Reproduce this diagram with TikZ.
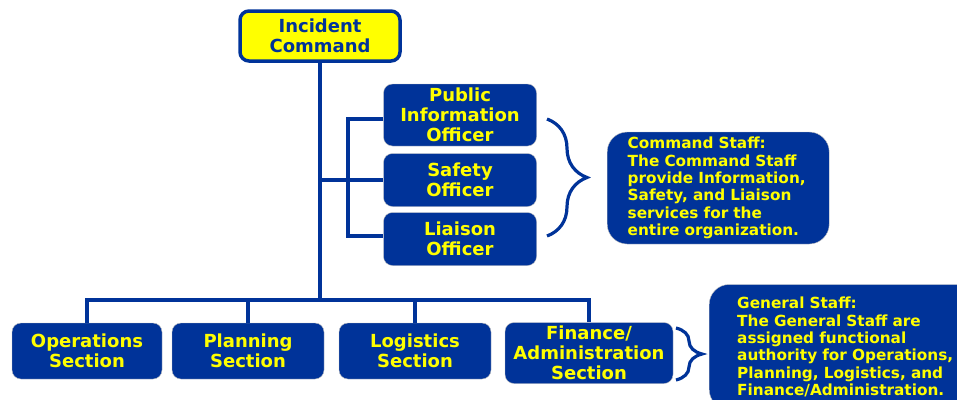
\documentclass[tikz,border=0pt]{standalone}
\usepackage{fontspec}
\setmainfont{DejaVu Sans}
\usetikzlibrary{decorations.pathreplacing}
\definecolor{icsBlue}{RGB}{0,51,153}
\definecolor{icsYellow}{RGB}{255,255,0}

\begin{document}
\begin{tikzpicture}[
    x=1pt, y=-1pt,
    every node/.style={align=center, font=\bfseries\fontsize{18}{20}\selectfont},
    box/.style={rectangle, rounded corners=9pt, fill=icsBlue, draw=gray!50, thin, text=icsYellow, inner sep=0pt},
    commandBox/.style={rectangle, rounded corners=9pt, fill=icsYellow, draw=icsBlue, line width=3.5pt, text=icsBlue, inner sep=0pt},
    note/.style={rectangle, rounded corners=20pt, fill=icsBlue, draw=gray!50, thin, text=icsYellow, align=left, inner ysep=0pt, font=\bfseries\fontsize{15.3}{17.4}\selectfont},
    link/.style={draw=icsBlue, line width=3.2pt},
    curly/.style={draw=icsBlue, line width=3.2pt, decorate, decoration={brace, amplitude=#1}}
]
\clip (0,0) rectangle (957,399);

% Nodes
\node[commandBox, minimum width=160, minimum height=50] (inc) at (320,36) {Incident\\Command};
\node[box, minimum width=153, minimum height=62] (pio) at (460,115) {Public\\Information\\Officer};
\node[box, minimum width=153, minimum height=53] (safety) at (460,180) {Safety\\Officer};
\node[box, minimum width=153, minimum height=53] (liaison) at (460,239) {Liaison\\Officer};
\node[note, minimum width=222, minimum height=112, text width=181, inner xsep=20.5pt, anchor=west] (cmdStaff) at (607,188) {Command Staff:\\The Command Staff\\provide Information,\\Safety, and Liaison\\services for the\\entire organization.};
\node[box, minimum width=150, minimum height=56] (ops) at (87,351) {Operations\\Section};
\node[box, minimum width=152, minimum height=56] (plan) at (248,351) {Planning\\Section};
\node[box, minimum width=152, minimum height=56] (logs) at (415,351) {Logistics\\Section};
\node[box, minimum width=168, minimum height=61] (fin) at (589,353) {Finance/\\Administration\\Section};
\node[note, minimum height=125, text width=222, inner xsep=28pt, anchor=west] (genStaff) at (709,347) {General Staff:\\The General Staff are\\assigned functional\\authority for Operations,\\Planning, Logistics, and\\Finance/Administration.};
\coordinate (bus) at (320,300);
\coordinate (spine) at (348,119);

% Lines
\draw[link] (inc) -- (bus);
\draw[link] (bus) -| (ops);
\draw[link] (bus) -| (plan);
\draw[link] (bus) -| (logs);
\draw[link] (bus) -| (fin);
\draw[link] (inc.south |- safety.west) -- (safety.west);
\draw[link] (pio.west |- spine) -- (spine) |- (liaison.west |- 0,236);

% Braces
\draw[curly=40] (547,119) -- (547,236);
\draw[curly=26] (676,328) -- (676,380);

\end{tikzpicture}
\end{document}
